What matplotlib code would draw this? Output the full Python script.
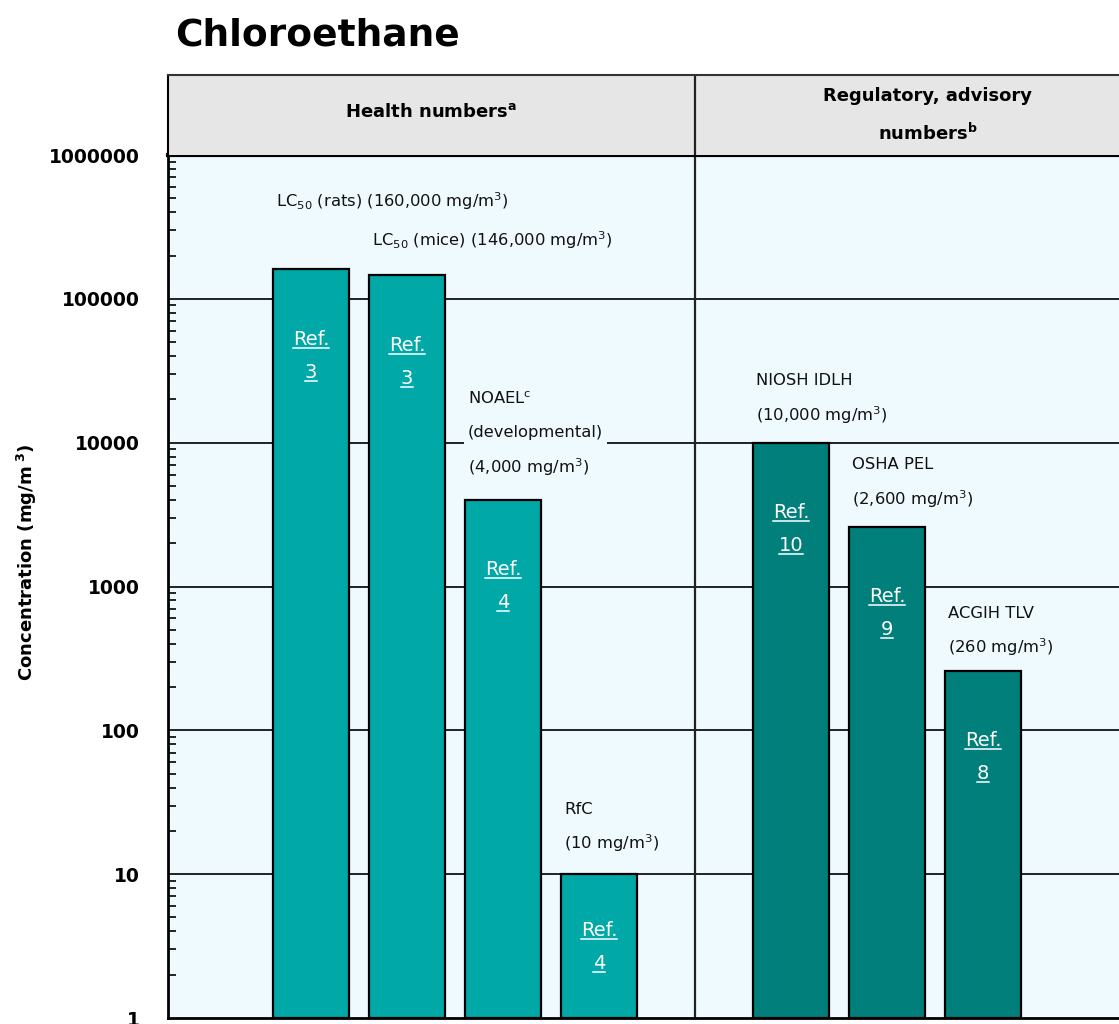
import matplotlib.pyplot as plt
from matplotlib.lines import Line2D
from matplotlib.ticker import LogLocator, NullFormatter, FixedLocator

# data
bar_pos = [0, 1, 2, 3, 5, 6, 7]
bar_values = [160000, 146000, 4000, 10, 10000, 2600, 260]
bar_refs = ['3', '3', '4', '4', '10', '9', '8']
bar_group = ['health', 'health', 'health', 'health', 'reg', 'reg', 'reg']
bar_labels = [
    [r'LC$_{50}$ (rats) (160,000 mg/m$^3$)'],
    [r'LC$_{50}$ (mice) (146,000 mg/m$^3$)'],
    [r'NOAEL$^\mathrm{c}$', '(developmental)', r'(4,000 mg/m$^3$)'],
    ['RfC', r'(10 mg/m$^3$)'],
    ['NIOSH IDLH', r'(10,000 mg/m$^3$)'],
    ['OSHA PEL', r'(2,600 mg/m$^3$)'],
    ['ACGIH TLV', r'(260 mg/m$^3$)'],
]
yticks = [1, 10, 100, 1000, 10000, 100000, 1000000]
ytick_labels = ['1', '10', '100', '1000', '10000', '100000', '1000000']

# layout (pixels above bar top for the last label line)
label_offsets = [68, 35, 33, 31, 28, 28, 23]

bg = '#EEFAFE'
colors = {'health': '#00A8A8', 'reg': '#007F7B'}

W, H = 1119, 1024
fig = plt.figure(figsize=(W / 100, H / 100), dpi=100)
fig.patch.set_facecolor('white')

left_px, right_px = 168, 1160
top_px, bot_px = 155, 1018
ax = fig.add_axes([left_px / W, (H - bot_px) / H,
                   (right_px - left_px) / W, (bot_px - top_px) / H])
hx = fig.add_axes([left_px / W, (H - top_px) / H,
                   (right_px - left_px) / W, 80 / H])

x0 = (left_px - 311) / 96
x1 = (right_px - 311) / 96
ax.set_xlim(x0, x1)
ax.set_yscale('log')
ax.set_ylim(1, 1000000)
ax.set_facecolor(bg)

# grid
for v in yticks[1:-1]:
    ax.axhline(v, color='#111111', lw=1.3, zorder=1)
ax.axvline(4.0, color='#222222', lw=1.6, zorder=1)

for p, v, g in zip(bar_pos, bar_values, bar_group):
    ax.bar(p, v - 1, width=0.79, bottom=1, color=colors[g], edgecolor='black',
           linewidth=1.6, zorder=3)

# labels above bars
for p, v, lines, off in zip(bar_pos, bar_values, bar_labels, label_offsets):
    n = len(lines)
    for i, line in enumerate(lines):
        dy = off + (n - 1 - i) * 34
        ax.annotate(line, xy=(p - 0.395, v), xytext=(3, dy),
                    textcoords='offset pixels', ha='left', va='center',
                    fontsize=11.8, color='#111111', zorder=4,
                    bbox=dict(boxstyle='square,pad=0.25', facecolor=bg,
                              edgecolor='none'))

# Ref. labels inside bars
ref_texts = []
for p, v, r in zip(bar_pos, bar_values, bar_refs):
    off = 56 if v < 100 else 70
    for s, dy in (('Ref.', -off), (r, -off - 33)):
        t = ax.annotate(s, xy=(p, v), xytext=(0, dy), textcoords='offset pixels',
                        ha='center', va='center', fontsize=14, color='white',
                        zorder=5)
        ref_texts.append(t)

# axes styling
ax.set_xticks([])
ax.yaxis.set_major_locator(FixedLocator(yticks))
ax.set_yticklabels(ytick_labels, fontsize=13.5, fontweight='bold')
ax.yaxis.set_minor_locator(LogLocator(base=10, subs=range(2, 10)))
ax.yaxis.set_minor_formatter(NullFormatter())
ax.tick_params(axis='y', which='major', direction='in', length=0, pad=20)
ax.tick_params(axis='y', which='minor', direction='in', length=6, width=1.2)
ax.spines['right'].set_visible(False)
ax.spines['left'].set_linewidth(2)
ax.spines['bottom'].set_linewidth(2)
ax.spines['top'].set_linewidth(3)
ax.set_ylabel(r'Concentration (mg/m$^{\ \mathbf{3}}$)', fontsize=13,
              fontweight='bold')
ax.yaxis.set_label_coords(-0.13, 0.528)

# header band
hx.set_xlim(x0, x1)
hx.set_ylim(0, 1)
hx.set_facecolor('#E6E6E6')
hx.set_xticks([])
hx.set_yticks([])
for s in ['right', 'bottom']:
    hx.spines[s].set_visible(False)
hx.spines['top'].set_linewidth(1.5)
hx.spines['top'].set_color('#333333')
hx.spines['left'].set_linewidth(1.5)
hx.axvline(4.0, color='#222222', lw=1.6)
hx.text((x0 + 4.0) / 2, 0.54, r'Health numbers$^\mathbf{a}$', ha='center',
        va='center', fontsize=13, fontweight='bold')
hx.text((4.0 + x1) / 2, 0.74, 'Regulatory, advisory', ha='center',
        va='center', fontsize=13, fontweight='bold')
hx.text((4.0 + x1) / 2, 0.27, r'numbers$^\mathbf{b}$', ha='center',
        va='center', fontsize=13, fontweight='bold')

fig.text(175 / W, 1 - 35 / H, 'Chloroethane', ha='left', va='center',
         fontsize=27, fontweight='bold')

# underline the Ref. texts
fig.canvas.draw()
renderer = fig.canvas.get_renderer()
inv = fig.transFigure.inverted()
for t in ref_texts:
    bb = t.get_window_extent(renderer)
    (a, b), (c, _) = inv.transform([(bb.x0, bb.y0 + 1), (bb.x1, bb.y0 + 1)])
    fig.add_artist(Line2D([a, c], [b, b], color='white', lw=1.1, zorder=6))

fig.savefig('out.png', dpi=100, facecolor='white')
